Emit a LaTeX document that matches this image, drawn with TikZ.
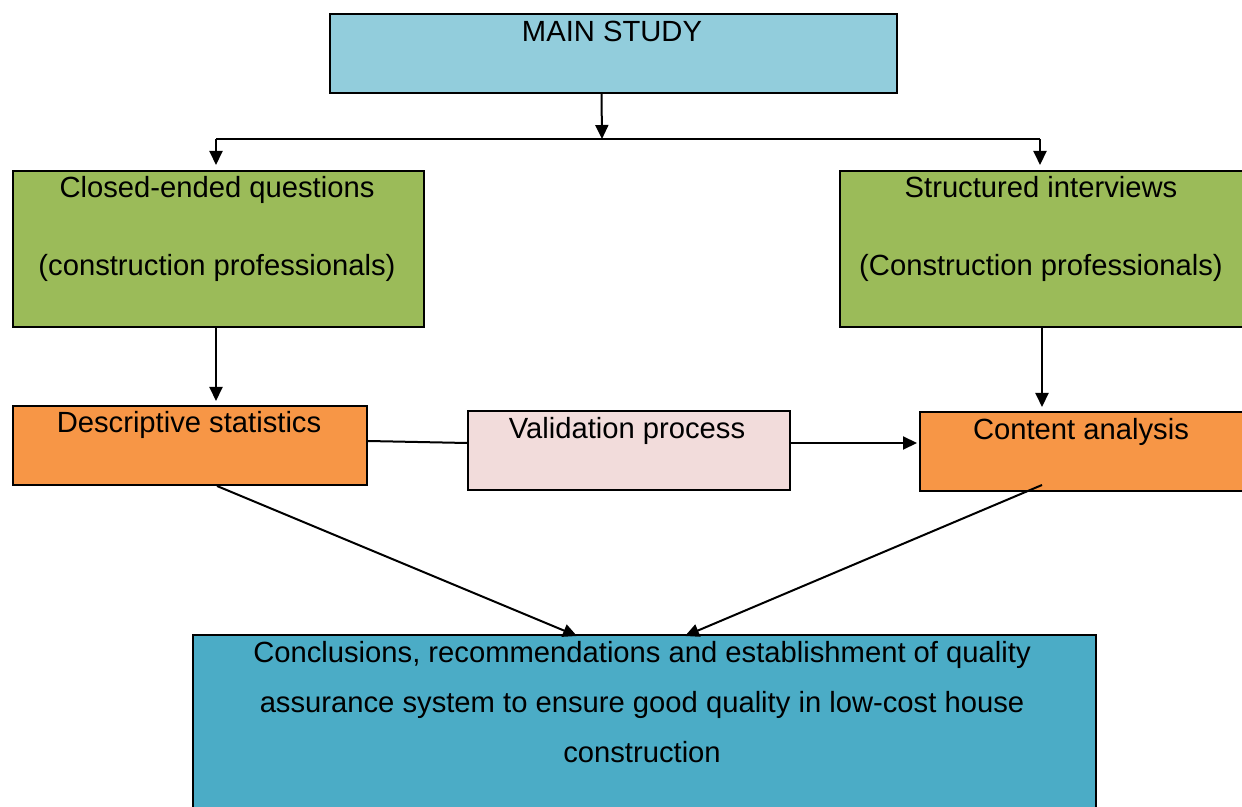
\documentclass[tikz,border=0pt]{standalone}
\usepackage{fontspec}
\setmainfont{Liberation Sans}
\usetikzlibrary{arrows.meta,positioning}
\definecolor{mainblue}{HTML}{92CDDC}
\definecolor{qgreen}{HTML}{9BBB59}
\definecolor{anorange}{HTML}{F79646}
\definecolor{valpink}{HTML}{F2DCDB}
\definecolor{concblue}{HTML}{4BACC6}
\begin{document}
\begin{tikzpicture}[x=0.5pt,y=-0.5pt,
    box/.style={draw,line width=1pt,anchor=north west,inner sep=0pt},
    txt/.style={anchor=base,inner sep=0pt,font=\fontsize{14.6}{18}\selectfont},
    arr/.style={-{Triangle[length=7pt,width=6.5pt]},line width=1pt}]
    \useasboundingbox (0,0) rectangle (1242,807);
    % boxes
    \node[box,fill=mainblue,minimum width=283.5pt,minimum height=39.5pt] (main) at (329,13) {};
    \node[box,fill=qgreen,minimum width=205.5pt,minimum height=78pt] (closed) at (12,170) {};
    \node[box,fill=qgreen,minimum width=210pt,minimum height=78pt] (struct) at (839,170) {};
    \node[box,fill=anorange,minimum width=177pt,minimum height=39.5pt] (descr) at (12,405) {};
    \node[box,fill=valpink,minimum width=161pt,minimum height=39.5pt] (valid) at (467,410) {};
    \node[box,fill=anorange,minimum width=170pt,minimum height=39.5pt] (content) at (919,411) {};
    \node[box,fill=concblue,minimum width=451.5pt,minimum height=100pt] (concl) at (192,634) {};
    % texts
    \node[txt] (mainT) at (612,42) {MAIN STUDY};
    \node[txt] (closedA) at (217,198) {Closed-ended questions};
    \node[txt] (closedB) at (217,276) {(construction professionals)};
    \node[txt] (structA) at (1041,198) {Structured interviews};
    \node[txt] (structB) at (1041,276) {(Construction professionals)};
    \node[txt] (descrT) at (189,433) {Descriptive statistics};
    \node[txt] (validT) at (627,438) {Validation process};
    \node[txt] (contentT) at (1081,440) {Content analysis};
    \node[txt] (conclA) at (642,662) {Conclusions, recommendations and establishment of quality};
    \node[txt] (conclB) at (642,712) {assurance system to ensure good quality in low-cost house};
    \node[txt] (conclC) at (642,762) {construction};
    % connectors
    \coordinate (split) at (602,139);
    \coordinate (splitL) at (216,139);
    \coordinate (splitR) at (1040,139);
    \draw[arr] ([xshift=-6pt]main.south) -- (split);
    \draw[line width=1pt] (splitL) -- (splitR);
    \draw[arr] (splitL) -- ([yshift=2.5pt]splitL |- closed.north);
    \draw[arr] (splitR) -- ([yshift=2.5pt]splitR |- struct.north);
    \draw[arr] (splitL |- closed.south) -- ([yshift=2pt]splitL |- descr.north);
    \draw[arr] ([xshift=-4pt]struct.south) -- ([xshift=-4pt,yshift=2pt]struct.south |- content.north);
    \draw[line width=1pt] ([yshift=2.25pt]descr.east) -- ([yshift=3.75pt]valid.west);
    \draw[arr] ([yshift=3.75pt]valid.east) -- ([xshift=-1pt,yshift=3.75pt]valid.east -| content.west);
    \draw[arr] ([xshift=13.5pt]descr.south) -- ([xshift=-33.75pt,yshift=-1pt]concl.north);
    \draw[arr] ([xshift=-24pt,yshift=3.5pt]content.south) -- ([xshift=20.25pt,yshift=-1pt]concl.north);
\end{tikzpicture}
\end{document}
